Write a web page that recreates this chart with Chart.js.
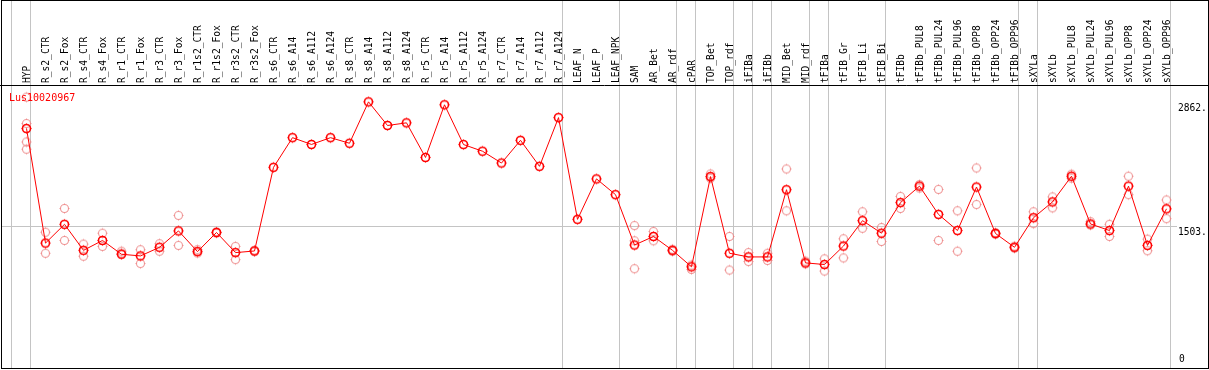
<!DOCTYPE html>
<html><head><meta charset="utf-8">
<script src="https://cdn.jsdelivr.net/npm/chart.js@4/dist/chart.umd.min.js"></script>
<style>html,body{margin:0;padding:0;background:#fff;overflow:hidden}#wrap{width:1209px;height:370px;position:relative}</style>
</head><body><div id="wrap"><canvas id="c" width="1209" height="370"></canvas></div>
<script>
const categories = ['HYP','R_s2_CTR','R_s2_Fox','R_s4_CTR','R_s4_Fox','R_r1_CTR','R_r1_Fox','R_r3_CTR','R_r3_Fox','R_r1s2_CTR','R_r1s2_Fox','R_r3s2_CTR','R_r3s2_Fox','R_s6_CTR','R_s6_A14','R_s6_A112','R_s6_A124','R_s8_CTR','R_s8_A14','R_s8_A112','R_s8_A124','R_r5_CTR','R_r5_A14','R_r5_A112','R_r5_A124','R_r7_CTR','R_r7_A14','R_r7_A112','R_r7_A124','LEAF_N','LEAF_P','LEAF_NPK','SAM','AR_Bet','AR_rdf','cPAR','TOP_Bet','TOP_rdf','iFIBa','iFIBb','MID_Bet','MID_rdf','tFIBa','tFIB_Gr','tFIB_Li','tFIB_Bi','tFIBb','tFIBb_PUL8','tFIBb_PUL24','tFIBb_PUL96','tFIBb_OPP8','tFIBb_OPP24','tFIBb_OPP96','sXYLa','sXYLb','sXYLb_PUL8','sXYLb_PUL24','sXYLb_PUL96','sXYLb_OPP8','sXYLb_OPP24','sXYLb_OPP96'];
const meanValues = [2571,1320,1525,1241,1349,1198,1180,1274,1453,1227,1436,1216,1234,2147,2471,2397,2471,2410,2862,2604,2633,2255,2830,2396,2323,2194,2442,2158,2690,1579,2021,1849,1299,1392,1241,1061,2046,1209,1169,1169,1903,1104,1086,1288,1565,1428,1762,1942,1633,1457,1932,1425,1274,1597,1770,2050,1529,1457,1942,1295,1694];
const rep1 = [2913,1439,1698,1309,1428,1231,1248,1313,1622,1248,1442,1284,1240,null,null,null,null,null,null,null,null,null,null,null,null,null,null,null,null,null,null,null,1511,1446,1252,1080,2075,1392,1216,1209,2129,1123,1148,1367,1662,1490,1830,1957,1906,1673,2140,1435,1285,1662,1824,2072,1554,1525,2050,1363,1791];
const rep2 = [2345,1209,1349,1177,1284,1209,1097,1231,1295,1212,1430,1140,1228,null,null,null,null,null,null,null,null,null,null,null,null,null,null,null,null,null,null,null,1040,1345,1230,1032,2029,1026,1119,1130,1673,1094,1015,1158,1482,1338,1698,1921,1349,1231,1741,1415,1265,1533,1705,2029,1518,1392,1849,1237,1587];
const rep3 = [2625,null,null,null,null,null,null,null,null,null,null,null,null,null,null,null,null,null,null,null,null,null,null,null,null,null,null,null,null,null,null,null,1345,null,null,null,null,null,null,null,null,null,null,null,null,null,null,null,null,null,null,null,null,null,null,null,null,null,null,null,null];
const rep4 = [2424,null,null,null,null,null,null,null,null,null,null,null,null,null,null,null,null,null,null,null,null,null,null,null,null,null,null,null,null,null,null,null,null,null,null,null,null,null,null,null,null,null,null,null,null,null,null,null,null,null,null,null,null,null,null,null,null];
const yTickValues = [0, 1503, 2862];
const groupEnds = [-1, 0, 28, 31, 34, 35, 37, 38, 39, 41, 42, 45, 52, 53, 60];
const geneLabel = 'Lus10020967';

const MONO = "'DejaVu Sans Mono', 'Liberation Mono', monospace";

function makeMarker(color, lw) {
  const s = 15, c = document.createElement('canvas');
  c.width = s; c.height = s;
  const g = c.getContext('2d');
  g.strokeStyle = color; g.lineWidth = lw;
  g.beginPath(); g.arc(7.5, 7.5, 4, 0, Math.PI * 2); g.stroke();
  g.lineWidth = 1;
  g.beginPath();
  g.moveTo(7.5, 2.5); g.lineTo(7.5, 3.5);
  g.moveTo(7.5, 11.5); g.lineTo(7.5, 12.5);
  g.moveTo(2.5, 7.5); g.lineTo(3.5, 7.5);
  g.moveTo(11.5, 7.5); g.lineTo(12.5, 7.5);
  g.stroke();
  return c;
}
const mainMarker = makeMarker('#ff0000', 1.6);
const repMarker = makeMarker('rgba(236,130,130,0.85)', 1.1);

const framePlugin = {
  id: 'frame',
  beforeDraw(chart) {
    const {ctx, scales: {x, y}} = chart;
    ctx.save();
    ctx.fillStyle = '#fff';
    ctx.fillRect(0, 0, chart.width, chart.height);
    ctx.strokeStyle = '#c4c4c4';
    ctx.lineWidth = 1;
    const step = x.getPixelForValue(1) - x.getPixelForValue(0);
    groupEnds.forEach(i => {
      const px = Math.round(x.getPixelForValue(0) + (i + 0.2) * step) + 0.5;
      ctx.beginPath(); ctx.moveTo(px, 0); ctx.lineTo(px, 368); ctx.stroke();
    });
    const gy = Math.round(y.getPixelForValue(yTickValues[1])) + 0.5;
    ctx.beginPath(); ctx.moveTo(1, gy); ctx.lineTo(1177, gy); ctx.stroke();
    ctx.restore();
  },
  afterDraw(chart) {
    const {ctx, scales: {y}, chartArea} = chart;
    ctx.save();
    ctx.strokeStyle = '#000';
    ctx.lineWidth = 1;
    ctx.strokeRect(1.5, 0.5, 1207, 368);
    ctx.beginPath(); ctx.moveTo(0, 85.5); ctx.lineTo(1209, 85.5); ctx.stroke();
    ctx.font = '9.6px ' + MONO;
    ctx.fillStyle = '#000';
    ctx.textAlign = 'left';
    ctx.textBaseline = 'middle';
    yTickValues.forEach((v, k) => {
      let py = y.getPixelForValue(v) + 6.5;
      py = Math.min(py, chartArea.bottom - 4.5);
      ctx.fillText(v === 0 ? '0' : v + '.', k === 0 ? 1179 : 1178, py);
    });
    ctx.fillStyle = '#ff0000';
    ctx.font = '10px ' + MONO;
    ctx.fillText(geneLabel, 9, chartArea.top + 13);
    ctx.restore();
  }
};

const repDs = (arr) => ({
  data: arr, showLine: false, pointStyle: repMarker, pointRadius: 5, order: 2, clip: false,
  borderColor: 'rgba(236,130,130,0.85)', backgroundColor: 'rgba(0,0,0,0)'
});

new Chart(document.getElementById('c'), {
  type: 'line',
  data: {
    labels: categories,
    datasets: [
      { data: meanValues, borderColor: '#ff0000', borderWidth: 1, tension: 0, pointStyle: mainMarker,
        pointRadius: 5, order: 1, clip: false, backgroundColor: 'rgba(0,0,0,0)' },
      repDs(rep1), repDs(rep2), repDs(rep3), repDs(rep4)
    ]
  },
  options: {
    responsive: false, animation: false, devicePixelRatio: 1,
    layout: { padding: { left: 26.5, right: 3.5, top: 0, bottom: 2.6 } },
    plugins: { legend: { display: false }, tooltip: { enabled: false } },
    scales: {
      x: {
        type: 'category', position: 'top', offset: false,
        grid: { display: false, drawTicks: false, tickLength: 0 },
        border: { display: false },
        ticks: { autoSkip: false, minRotation: 90, maxRotation: 90, padding: 2, labelOffset: 12.5,
                 color: '#000', font: { family: MONO, size: 9.6 } },
        afterFit: s => { s.height = 85; }
      },
      y: {
        position: 'right', min: 0, max: 3046,
        grid: { display: false }, border: { display: false },
        ticks: { display: false },
        afterBuildTicks: s => { s.ticks = yTickValues.map(v => ({ value: v })); },
        afterFit: s => { s.width = 39; }
      }
    }
  },
  plugins: [framePlugin]
});
</script></body></html>
